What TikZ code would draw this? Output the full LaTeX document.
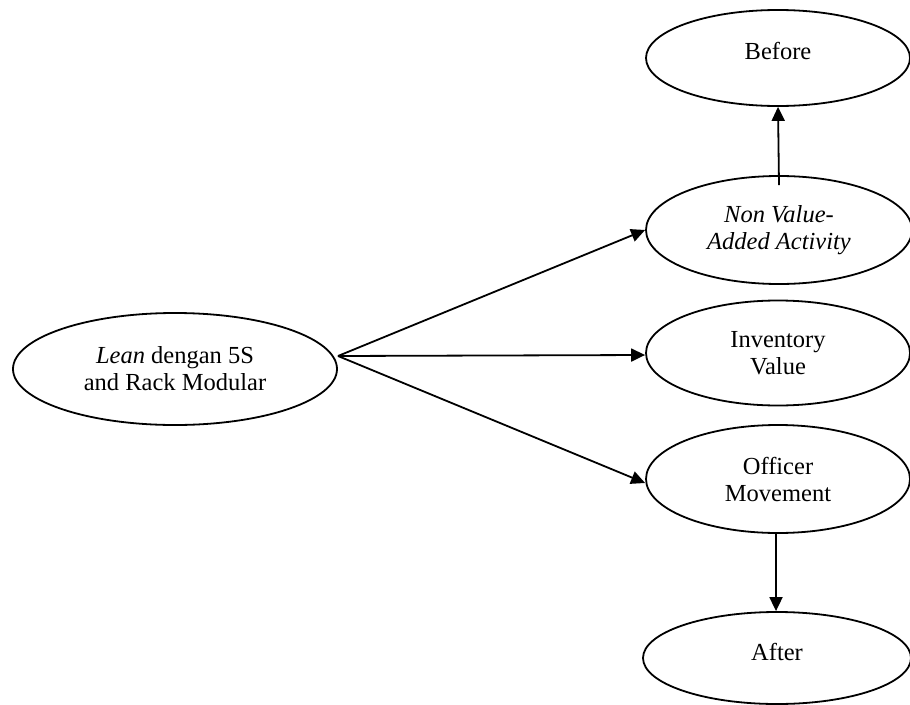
\documentclass[tikz,border=0pt]{standalone}
\usepackage{fontspec}
\setmainfont{Liberation Serif}
\usetikzlibrary{shapes.geometric,arrows.meta}
\begin{document}
\begin{tikzpicture}[x=1pt,y=-1pt,
  oval/.style={draw,ellipse,line width=1.8pt,inner sep=0pt,align=center,
    font=\fontsize{24.5}{27}\selectfont},
  arr/.style={line width=1.8pt,-{Triangle[length=14pt,width=13pt]}}]
\useasboundingbox (0,0) rectangle (910,704);
\node[oval,minimum width=264pt,minimum height=96pt,text depth=14pt] (bef) at (778,58) {Before};
\node[oval,minimum width=266pt,minimum height=108pt] (nva) at (779,230) {\itshape Non Value-\\\itshape Added Activity};
\node[oval,minimum width=264pt,minimum height=105pt] (inv) at (778,353) {Inventory\\Value};
\node[oval,minimum width=264pt,minimum height=108pt] (off) at (778,479) {Officer\\Movement};
\node[oval,minimum width=268pt,minimum height=92pt,text depth=12pt] (aft) at (777,658) {After};
\node[oval,minimum width=324pt,minimum height=112pt] (lean) at (175,369) {\textit{Lean} dengan 5S\\and Rack Modular};
\coordinate (s) at (338,356);
\draw[arr] (s) -- (nva.west);
\draw[arr] (s) -- ([yshift=-2pt]inv.west);
\draw[arr] (s) -- ([yshift=-4pt]off.west);
\draw[arr] ([yshift=-10pt]nva.north) -- (bef.south);
\draw[arr] ([xshift=-2pt]off.south) -- ([xshift=-1pt]aft.north);
\end{tikzpicture}
\end{document}
